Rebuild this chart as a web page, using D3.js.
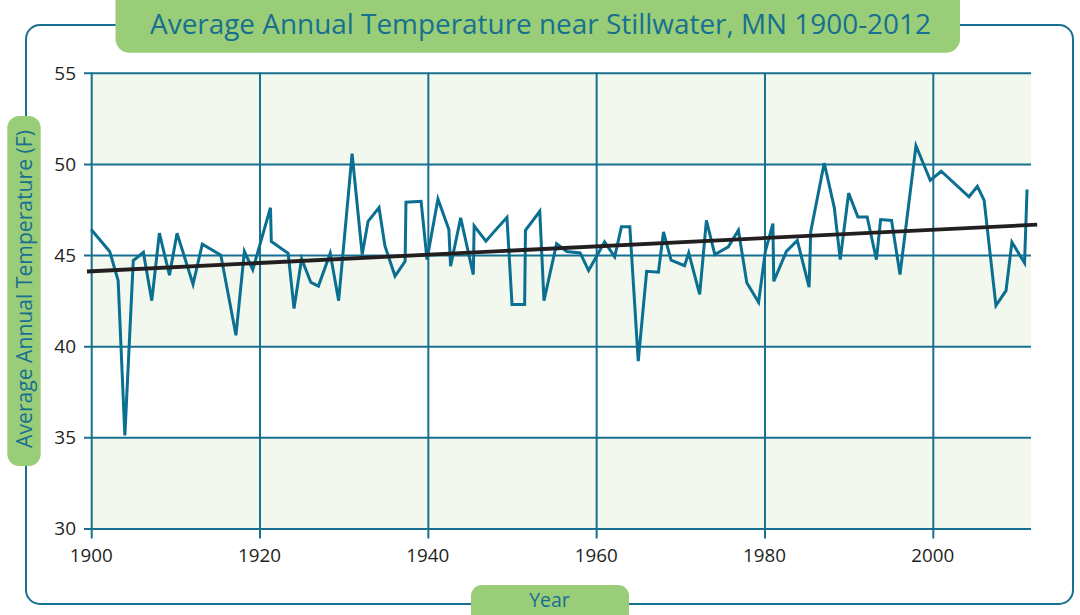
<!DOCTYPE html>
<html>
<head>
<meta charset="utf-8">
<script src="https://cdn.jsdelivr.net/npm/d3@7"></script>
<style>
  html, body { margin: 0; padding: 0; background: #fff; }
  svg { display: block; }
</style>
</head>
<body>
<svg id="chart" width="1080" height="615"></svg>
<script>
// ---------------- data ----------------
const titleText = "Average Annual Temperature near Stillwater, MN 1900-2012";
const yAxisTitle = "Average Annual Temperature (F)";
const xAxisTitle = "Year";

const years = [
  1900, 1902.2, 1903.2, 1904.0, 1905.0, 1906.2, 1907.2, 1908.1, 1909.3, 1910.2,
  1912.1, 1913.2, 1915.4, 1917.2, 1918.2, 1919.2, 1921.3, 1921.4, 1923.4, 1924.1,
  1925.0, 1926.1, 1927.0, 1928.4, 1929.4, 1931.0, 1932.2, 1932.9, 1934.2, 1934.9,
  1936.1, 1937.3, 1937.4, 1939.2, 1939.9, 1941.2, 1942.5, 1942.7, 1943.9, 1945.4,
  1945.5, 1946.9, 1947.9, 1949.4, 1950.0, 1951.5, 1951.6, 1953.3, 1953.8, 1955.3,
  1956.5, 1958.1, 1959.1, 1961.0, 1962.2, 1963.0, 1964.0, 1965.0, 1966.0, 1967.4,
  1968.0, 1968.9, 1970.5, 1971.0, 1972.3, 1973.1, 1974.1, 1975.7, 1976.9, 1977.9,
  1979.3, 1980.1, 1981.0, 1981.1, 1982.6, 1983.9, 1985.3, 1985.5, 1987.1, 1988.3,
  1989.0, 1990.0, 1991.1, 1992.2, 1993.3, 1993.8, 1995.1, 1996.1, 1998.0, 1999.7,
  2001.0, 2004.3, 2005.3, 2006.1, 2007.5, 2008.7, 2009.4, 2010.9, 2011.2
];
const temps = [
  46.4, 45.2, 43.6, 35.1, 44.7, 45.15, 42.5, 46.2, 43.9, 46.2,
  43.4, 45.6, 45.0, 40.6, 45.2, 44.2, 47.6, 45.75, 45.1, 42.07,
  44.8, 43.5, 43.3, 45.1, 42.5, 50.56, 45.03, 46.85, 47.6, 45.5,
  43.85, 44.66, 47.9, 47.95, 44.75, 48.08, 46.4, 44.39, 47.04, 43.93,
  46.6, 45.76, 46.3, 47.07, 42.29, 42.29, 46.36, 47.4, 42.5, 45.63,
  45.2, 45.12, 44.15, 45.72, 44.9, 46.55, 46.55, 39.18, 44.11, 44.06,
  46.27, 44.72, 44.42, 45.12, 42.84, 46.9, 45.03, 45.45, 46.36, 43.48,
  42.41, 45.2, 46.73, 43.56, 45.2, 45.8, 43.24, 46.3, 50.05, 47.59,
  44.75, 48.4, 47.09, 47.09, 44.75, 46.95, 46.9, 43.93, 51.0, 49.1,
  49.6, 48.2, 48.77, 48.0, 42.23, 43.05, 45.7, 44.57, 48.6
];
const trendYears = [1899.5, 2012.4];
const trendTemps = [44.1, 46.67];

const xTicks = [1900, 1920, 1940, 1960, 1980, 2000];
const xTickLabels = ["1900", "1920", "1940", "1960", "1980", "2000"];
const yTicks = [30, 35, 40, 45, 50, 55];
const yTickLabels = ["30", "35", "40", "45", "50", "55"];
const bandRanges = [[30, 35], [40, 45], [50, 55]];

// ---------------- styles ----------------
const TEAL = "#17708f";
const LINE = "#0a6f91";
const GREEN = "#9acd78";
const BAND = "#f2f8ee";
const DARK = "#231f20";
const FONT = "'Open Sans', 'Noto Sans', sans-serif";

const svg = d3.select("#chart");

const plotLeft = 90, plotRight = 1031, plotTop = 72.8, plotBottom = 528.5;
const x = d3.scaleLinear().domain([1900, 2012]).range([91.2, 1033.8]);
const y = d3.scaleLinear().domain([30, 55]).range([plotBottom, plotTop]);

// outer frame
svg.append("rect")
  .attr("x", 26).attr("y", 25).attr("width", 1047).attr("height", 579)
  .attr("rx", 14).attr("ry", 14)
  .attr("fill", "none").attr("stroke", TEAL).attr("stroke-width", 2);

// plot background bands
svg.append("g").selectAll("rect").data(bandRanges).join("rect")
  .attr("x", plotLeft).attr("width", plotRight - plotLeft)
  .attr("y", d => y(d[1])).attr("height", d => y(d[0]) - y(d[1]))
  .attr("fill", BAND);

// horizontal gridlines with left ticks
const gy = svg.append("g").attr("transform", `translate(${plotRight},0)`)
  .call(d3.axisLeft(y).tickValues(yTicks).tickFormat("").tickSize(plotRight - plotLeft + 6));
gy.select(".domain").remove();
gy.selectAll(".tick line").attr("stroke", TEAL).attr("stroke-width", 2);

// y tick labels
svg.append("g").selectAll("text").data(yTicks).join("text")
  .attr("x", 76).attr("y", d => y(d))
  .attr("dy", "0.36em").attr("text-anchor", "end")
  .attr("font-family", FONT).attr("font-size", 19).attr("fill", DARK)
  .text((d, i) => yTickLabels[i]);

// vertical gridlines with bottom ticks
const gx = svg.append("g").attr("transform", `translate(0,${plotTop})`)
  .call(d3.axisBottom(x).tickValues(xTicks).tickFormat("").tickSize(plotBottom - plotTop + 10));
gx.select(".domain").remove();
gx.selectAll(".tick line").attr("stroke", TEAL).attr("stroke-width", 2);

// x tick labels
svg.append("g").selectAll("text").data(xTicks).join("text")
  .attr("x", d => x(d)).attr("y", 562)
  .attr("text-anchor", "middle")
  .attr("font-family", FONT).attr("font-size", 19).attr("fill", DARK)
  .attr("textLength", 43).attr("lengthAdjust", "spacingAndGlyphs")
  .text((d, i) => xTickLabels[i]);

// data line
const pts = years.map((yr, i) => [yr, temps[i]]);
svg.append("path").datum(pts)
  .attr("d", d3.line().x(d => x(d[0])).y(d => y(d[1])))
  .attr("fill", "none").attr("stroke", LINE).attr("stroke-width", 3)
  .attr("stroke-linejoin", "miter").attr("stroke-miterlimit", 4);

// trend line
const tpts = trendYears.map((yr, i) => [yr, trendTemps[i]]);
svg.append("path").datum(tpts)
  .attr("d", d3.line().x(d => x(d[0])).y(d => y(d[1])))
  .attr("fill", "none").attr("stroke", DARK).attr("stroke-width", 3.8);

// title box
svg.append("rect")
  .attr("x", 115.5).attr("y", -16).attr("width", 844.5).attr("height", 68.8)
  .attr("rx", 14).attr("ry", 14).attr("fill", GREEN);
const title = svg.append("text")
  .attr("x", 540.5).attr("y", 34)
  .attr("text-anchor", "middle")
  .attr("font-family", FONT).attr("font-size", 26).attr("fill", TEAL)
  .text(titleText);
{
  const w = title.node().getComputedTextLength();
  title.attr("font-size", 26 * 781 / w);
}

// y axis title box
svg.append("rect")
  .attr("x", 7.3).attr("y", 116).attr("width", 33.4).attr("height", 350)
  .attr("rx", 12).attr("ry", 12).attr("fill", GREEN);
const yt = svg.append("text")
  .attr("transform", "translate(31.5,289) rotate(-90)")
  .attr("text-anchor", "middle")
  .attr("font-family", FONT).attr("font-size", 20).attr("fill", TEAL)
  .text(yAxisTitle);
{
  const w = yt.node().getComputedTextLength();
  yt.attr("font-size", 20 * 318 / w);
}

// x axis title box
svg.append("rect")
  .attr("x", 471).attr("y", 585).attr("width", 158).attr("height", 45)
  .attr("rx", 11).attr("ry", 11).attr("fill", GREEN);
svg.append("text")
  .attr("x", 549.5).attr("y", 607)
  .attr("text-anchor", "middle")
  .attr("font-family", FONT).attr("font-size", 19.5).attr("fill", TEAL)
  .text(xAxisTitle);
</script>
</body>
</html>
